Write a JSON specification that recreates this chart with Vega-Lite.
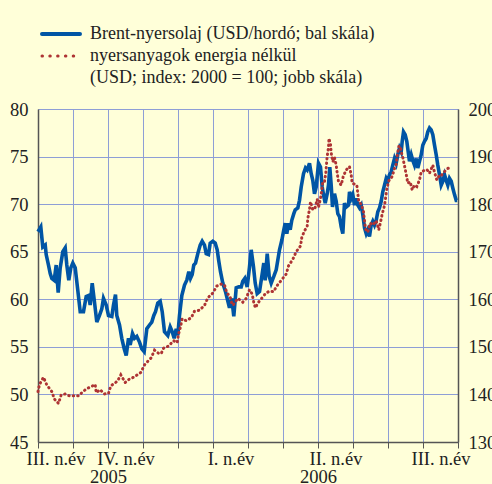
{
  "$schema": "https://vega.github.io/schema/vega-lite/v6.json",
  "width": 420,
  "height": 333,
  "autosize": {"type": "none"},
  "padding": {"left": 38, "top": 109, "right": 34, "bottom": 42},
  "background": "#FFFFD9",
  "config": {
    "view": {"stroke": null},
    "font": "Liberation Serif",
    "axis": {"labelFont": "Liberation Serif", "labelFontSize": 18.5, "labelColor": "#222222", "gridColor": "#8E9ED6", "gridOpacity": 1, "gridWidth": 1, "domainColor": "#555555", "tickColor": "#555555", "title": null},
    "legend": {"labelFont": "Liberation Serif", "labelFontSize": 18, "labelColor": "#222222"}
  },
  "datasets": {
    "brent": [
      {"m":0,"v":67.1},{"m":0.08,"v":67.6},{"m":0.137,"v":65.5},{"m":0.206,"v":65.7},{"m":0.234,"v":64.7},{"m":0.3,"v":63.6},{"m":0.349,"v":62.7},{"m":0.394,"v":62.2},{"m":0.463,"v":62.0},{"m":0.52,"v":63.6},{"m":0.577,"v":60.7},{"m":0.634,"v":63.3},{"m":0.709,"v":65.0},{"m":0.777,"v":65.4},{"m":0.823,"v":63.6},{"m":0.88,"v":62.0},{"m":0.937,"v":63.3},{"m":0.994,"v":63.8},{"m":1.063,"v":63.3},{"m":1.129,"v":61.2},{"m":1.206,"v":58.7},{"m":1.3,"v":58.7},{"m":1.377,"v":60.3},{"m":1.443,"v":60.4},{"m":1.491,"v":59.4},{"m":1.549,"v":61.7},{"m":1.614,"v":59.7},{"m":1.68,"v":57.6},{"m":1.757,"v":58.3},{"m":1.823,"v":59.0},{"m":1.871,"v":60.1},{"m":1.949,"v":59.4},{"m":2.014,"v":58.3},{"m":2.109,"v":58.2},{"m":2.157,"v":59.4},{"m":2.214,"v":60.5},{"m":2.251,"v":58.3},{"m":2.329,"v":57.3},{"m":2.394,"v":55.9},{"m":2.463,"v":54.8},{"m":2.52,"v":54.1},{"m":2.586,"v":55.9},{"m":2.634,"v":55.2},{"m":2.7,"v":56.4},{"m":2.757,"v":55.9},{"m":2.823,"v":56.1},{"m":2.9,"v":55.5},{"m":2.966,"v":54.8},{"m":3.034,"v":54.5},{"m":3.109,"v":56.9},{"m":3.186,"v":57.3},{"m":3.251,"v":57.6},{"m":3.309,"v":58.3},{"m":3.357,"v":58.7},{"m":3.423,"v":59.6},{"m":3.491,"v":59.8},{"m":3.549,"v":58.7},{"m":3.614,"v":56.6},{"m":3.709,"v":56.2},{"m":3.777,"v":57.1},{"m":3.834,"v":56.6},{"m":3.891,"v":55.9},{"m":3.949,"v":56.9},{"m":3.994,"v":56.2},{"m":4.043,"v":58.3},{"m":4.109,"v":60.4},{"m":4.186,"v":61.5},{"m":4.251,"v":62.0},{"m":4.309,"v":62.9},{"m":4.357,"v":62.2},{"m":4.406,"v":62.6},{"m":4.451,"v":63.6},{"m":4.5,"v":63.8},{"m":4.566,"v":64.8},{"m":4.634,"v":65.7},{"m":4.691,"v":66.1},{"m":4.757,"v":65.7},{"m":4.806,"v":64.8},{"m":4.871,"v":64.7},{"m":4.92,"v":65.9},{"m":4.994,"v":66.1},{"m":5.063,"v":65.9},{"m":5.12,"v":65.2},{"m":5.166,"v":64.0},{"m":5.214,"v":62.9},{"m":5.28,"v":61.7},{"m":5.357,"v":60.8},{"m":5.423,"v":59.8},{"m":5.471,"v":59.1},{"m":5.537,"v":60.1},{"m":5.594,"v":58.2},{"m":5.663,"v":61.2},{"m":5.737,"v":61.3},{"m":5.806,"v":61.3},{"m":5.851,"v":61.9},{"m":5.909,"v":62.2},{"m":5.977,"v":61.3},{"m":6.043,"v":63.4},{"m":6.091,"v":65.2},{"m":6.157,"v":63.4},{"m":6.206,"v":61.7},{"m":6.263,"v":60.6},{"m":6.329,"v":60.8},{"m":6.394,"v":62.4},{"m":6.451,"v":63.8},{"m":6.491,"v":62.0},{"m":6.549,"v":64.8},{"m":6.606,"v":62.4},{"m":6.663,"v":61.7},{"m":6.737,"v":62.4},{"m":6.806,"v":63.1},{"m":6.851,"v":64.1},{"m":6.9,"v":65.2},{"m":6.966,"v":66.2},{"m":7.023,"v":67.3},{"m":7.063,"v":68.0},{"m":7.109,"v":66.9},{"m":7.157,"v":68.0},{"m":7.206,"v":67.3},{"m":7.251,"v":68.3},{"m":7.309,"v":69.0},{"m":7.349,"v":69.4},{"m":7.423,"v":69.6},{"m":7.471,"v":70.4},{"m":7.52,"v":71.8},{"m":7.586,"v":73.2},{"m":7.643,"v":73.8},{"m":7.691,"v":73.6},{"m":7.757,"v":74.3},{"m":7.806,"v":73.2},{"m":7.851,"v":72.5},{"m":7.9,"v":71.1},{"m":7.949,"v":71.8},{"m":8.014,"v":74.3},{"m":8.071,"v":73.9},{"m":8.12,"v":71.8},{"m":8.166,"v":70.8},{"m":8.206,"v":70.1},{"m":8.263,"v":71.1},{"m":8.3,"v":72.0},{"m":8.337,"v":73.9},{"m":8.377,"v":72.0},{"m":8.414,"v":69.7},{"m":8.471,"v":71.1},{"m":8.52,"v":70.3},{"m":8.566,"v":69.0},{"m":8.614,"v":68.7},{"m":8.663,"v":67.6},{"m":8.709,"v":66.9},{"m":8.757,"v":70.1},{"m":8.806,"v":69.7},{"m":8.871,"v":69.9},{"m":8.9,"v":71.3},{"m":8.949,"v":70.6},{"m":8.994,"v":71.0},{"m":9.043,"v":69.9},{"m":9.091,"v":70.6},{"m":9.137,"v":69.9},{"m":9.186,"v":69.6},{"m":9.234,"v":69.9},{"m":9.28,"v":68.9},{"m":9.329,"v":67.5},{"m":9.377,"v":66.9},{"m":9.423,"v":67.3},{"m":9.471,"v":66.6},{"m":9.52,"v":67.8},{"m":9.566,"v":68.2},{"m":9.614,"v":67.8},{"m":9.663,"v":68.3},{"m":9.709,"v":69.2},{"m":9.757,"v":69.6},{"m":9.806,"v":70.3},{"m":9.851,"v":71.3},{"m":9.9,"v":72.0},{"m":9.949,"v":72.7},{"m":9.994,"v":72.4},{"m":10.043,"v":73.1},{"m":10.091,"v":73.4},{"m":10.137,"v":74.1},{"m":10.186,"v":74.8},{"m":10.234,"v":74.3},{"m":10.28,"v":75.2},{"m":10.329,"v":75.9},{"m":10.377,"v":75.5},{"m":10.406,"v":76.6},{"m":10.443,"v":77.6},{"m":10.491,"v":77.3},{"m":10.537,"v":76.6},{"m":10.577,"v":75.5},{"m":10.614,"v":74.5},{"m":10.663,"v":75.2},{"m":10.709,"v":74.6},{"m":10.757,"v":74.1},{"m":10.806,"v":74.8},{"m":10.851,"v":73.8},{"m":10.9,"v":74.5},{"m":10.949,"v":75.2},{"m":10.994,"v":76.2},{"m":11.043,"v":76.6},{"m":11.091,"v":76.9},{"m":11.137,"v":77.6},{"m":11.186,"v":78.0},{"m":11.234,"v":77.8},{"m":11.28,"v":77.3},{"m":11.329,"v":76.2},{"m":11.377,"v":75.2},{"m":11.423,"v":74.1},{"m":11.471,"v":73.1},{"m":11.52,"v":72.0},{"m":11.566,"v":72.4},{"m":11.614,"v":73.1},{"m":11.663,"v":72.5},{"m":11.709,"v":72.0},{"m":11.757,"v":72.7},{"m":11.806,"v":72.4},{"m":11.851,"v":71.7},{"m":11.9,"v":71.0},{"m":11.949,"v":70.4},{"m":11.977,"v":70.4}
    ],
    "raw": [
      {"m":0,"v":140.6},{"m":0.043,"v":142.1},{"m":0.157,"v":143.6},{"m":0.251,"v":142.0},{"m":0.394,"v":140.6},{"m":0.471,"v":139.0},{"m":0.586,"v":138.1},{"m":0.663,"v":139.9},{"m":0.777,"v":140.1},{"m":0.9,"v":139.7},{"m":1.034,"v":139.7},{"m":1.157,"v":139.7},{"m":1.3,"v":140.7},{"m":1.414,"v":141.3},{"m":1.491,"v":141.5},{"m":1.634,"v":142.1},{"m":1.663,"v":140.4},{"m":1.777,"v":141.0},{"m":1.891,"v":140.1},{"m":2.014,"v":140.2},{"m":2.08,"v":141.8},{"m":2.271,"v":142.8},{"m":2.366,"v":144.1},{"m":2.491,"v":142.5},{"m":2.606,"v":143.2},{"m":2.729,"v":143.6},{"m":2.937,"v":144.6},{"m":3.043,"v":146.2},{"m":3.129,"v":146.9},{"m":3.234,"v":147.7},{"m":3.329,"v":149.3},{"m":3.451,"v":148.6},{"m":3.52,"v":148.6},{"m":3.586,"v":149.7},{"m":3.737,"v":150.2},{"m":3.871,"v":151.3},{"m":3.977,"v":150.9},{"m":4.014,"v":152.6},{"m":4.071,"v":154.2},{"m":4.12,"v":155.9},{"m":4.234,"v":155.5},{"m":4.377,"v":156.1},{"m":4.471,"v":157.5},{"m":4.614,"v":157.7},{"m":4.757,"v":158.7},{"m":4.851,"v":160.3},{"m":4.994,"v":161.3},{"m":5.109,"v":162.8},{"m":5.234,"v":163.2},{"m":5.329,"v":163.0},{"m":5.394,"v":161.4},{"m":5.491,"v":160.5},{"m":5.549,"v":158.8},{"m":5.586,"v":158.9},{"m":5.709,"v":160.2},{"m":5.851,"v":159.4},{"m":5.949,"v":160.2},{"m":6.043,"v":162.0},{"m":6.12,"v":161.1},{"m":6.166,"v":159.3},{"m":6.214,"v":158.2},{"m":6.28,"v":159.2},{"m":6.414,"v":160.4},{"m":6.509,"v":161.3},{"m":6.614,"v":161.7},{"m":6.729,"v":161.6},{"m":6.834,"v":162.9},{"m":6.963,"v":164.1},{"m":7.091,"v":165.3},{"m":7.157,"v":167.0},{"m":7.28,"v":168.4},{"m":7.377,"v":170.0},{"m":7.5,"v":171.2},{"m":7.537,"v":173.0},{"m":7.614,"v":174.4},{"m":7.691,"v":175.3},{"m":7.709,"v":177.0},{"m":7.757,"v":178.9},{"m":7.786,"v":180.5},{"m":7.851,"v":178.8},{"m":7.92,"v":179.3},{"m":7.977,"v":181.0},{"m":8.014,"v":179.3},{"m":8.071,"v":181.2},{"m":8.109,"v":183.0},{"m":8.137,"v":184.7},{"m":8.186,"v":184.7},{"m":8.223,"v":186.5},{"m":8.243,"v":188.4},{"m":8.263,"v":190.1},{"m":8.3,"v":191.9},{"m":8.314,"v":193.8},{"m":8.357,"v":192.6},{"m":8.377,"v":190.8},{"m":8.423,"v":188.9},{"m":8.471,"v":189.8},{"m":8.52,"v":188.2},{"m":8.549,"v":186.5},{"m":8.586,"v":184.7},{"m":8.663,"v":184.0},{"m":8.72,"v":185.8},{"m":8.806,"v":187.2},{"m":8.9,"v":187.9},{"m":8.949,"v":186.1},{"m":8.977,"v":184.4},{"m":9.043,"v":184.2},{"m":9.109,"v":184.0},{"m":9.137,"v":182.3},{"m":9.166,"v":180.4},{"m":9.234,"v":180.0},{"m":9.3,"v":178.4},{"m":9.329,"v":176.5},{"m":9.357,"v":174.8},{"m":9.423,"v":174.1},{"m":9.491,"v":176.0},{"m":9.566,"v":175.6},{"m":9.663,"v":176.5},{"m":9.737,"v":174.6},{"m":9.786,"v":176.2},{"m":9.834,"v":177.9},{"m":9.9,"v":179.7},{"m":9.929,"v":181.2},{"m":9.966,"v":183.2},{"m":10.023,"v":184.9},{"m":10.12,"v":185.8},{"m":10.194,"v":187.7},{"m":10.234,"v":188.4},{"m":10.263,"v":190.2},{"m":10.309,"v":192.1},{"m":10.349,"v":192.2},{"m":10.377,"v":191.0},{"m":10.423,"v":189.8},{"m":10.471,"v":188.1},{"m":10.52,"v":186.3},{"m":10.566,"v":184.4},{"m":10.634,"v":184.7},{"m":10.691,"v":183.0},{"m":10.757,"v":184.0},{"m":10.823,"v":183.7},{"m":10.9,"v":185.1},{"m":10.949,"v":186.8},{"m":11.109,"v":187.3},{"m":11.186,"v":186.5},{"m":11.28,"v":188.2},{"m":11.329,"v":186.7},{"m":11.394,"v":185.1},{"m":11.471,"v":186.1},{"m":11.52,"v":186.0},{"m":11.634,"v":187.0},{"m":11.709,"v":187.5},{"m":11.777,"v":187.7}
    ]
  },
  "layer": [
    {
      "data": {"name": "brent"},
      "mark": {"type": "line", "strokeWidth": 3.6, "strokeJoin": "miter"},
      "encoding": {
        "x": {"field": "m", "type": "quantitative", "scale": {"domain": [0, 12], "nice": false, "zero": false},
          "axis": {"orient": "bottom", "values": [0,1,2,3,4,5,6,7,8,9,10,11,12], "grid": true, "tickSize": 6, "domainWidth": 1.5,
            "labelExpr": "datum.value == 0 ? 'III. n.év' : datum.value == 2 ? 'IV. n.év' : datum.value == 5 ? 'I. n.év' : datum.value == 8 ? 'II. n.év' : datum.value == 11 ? 'III. n.év' : ''",
            "labelOffset": 17.5, "labelPadding": 1, "labelOverlap": false, "labelFlush": false, "labelBound": false}},
        "y": {"field": "v", "type": "quantitative", "scale": {"domain": [45, 80], "nice": false, "zero": false},
          "axis": {"values": [45,50,55,60,65,70,75,80], "grid": true, "ticks": false, "labelPadding": 10, "domainWidth": 1.5}},
        "color": {"datum": "Brent-nyersolaj (USD/hordó; bal skála)", "type": "nominal",
          "scale": {"domain": ["Brent-nyersolaj (USD/hordó; bal skála)", "nyersanyagok energia nélkül", "(USD; index: 2000 = 100; jobb skála)"], "range": ["#0055A5", "#AE3434", "rgba(0,0,0,0)"]},
          "legend": {"title": null, "orient": "none", "legendX": 14, "legendY": -84, "padding": 0, "symbolType": "stroke", "symbolSize": 1444, "symbolStrokeWidth": 4, "labelOffset": 20, "rowPadding": 4, "labelLimit": 420,
            "encode": {"symbols": {"update": {"strokeCap": {"value": "round"}, "strokeDash": {"signal": "datum.value == 'nyersanyagok energia nélkül' ? [0.5, 7.3] : [1, 0]"}, "strokeWidth": {"signal": "datum.value == 'nyersanyagok energia nélkül' ? 3 : 4"}}}}}}
      }
    },
    {
      "data": {"name": "raw"},
      "mark": {"type": "line", "strokeWidth": 3, "strokeCap": "round", "strokeDash": [0.5, 4]},
      "encoding": {
        "x": {"field": "m", "type": "quantitative",
          "axis": {"orient": "bottom", "values": [2, 8], "grid": false, "ticks": false, "domain": false, "labelExpr": "datum.value == 2 ? '2005' : '2006'", "labelPadding": 25, "labelOverlap": false, "labelFlush": false}},
        "y": {"field": "v", "type": "quantitative", "scale": {"domain": [130, 200], "nice": false, "zero": false},
          "axis": {"orient": "right", "values": [130,140,150,160,170,180,190,200], "grid": false, "ticks": false, "labelPadding": 10, "domainWidth": 1.5}},
        "color": {"datum": "nyersanyagok energia nélkül", "type": "nominal"}
      }
    }
  ],
  "resolve": {"scale": {"y": "independent"}, "axis": {"x": "independent"}}
}
